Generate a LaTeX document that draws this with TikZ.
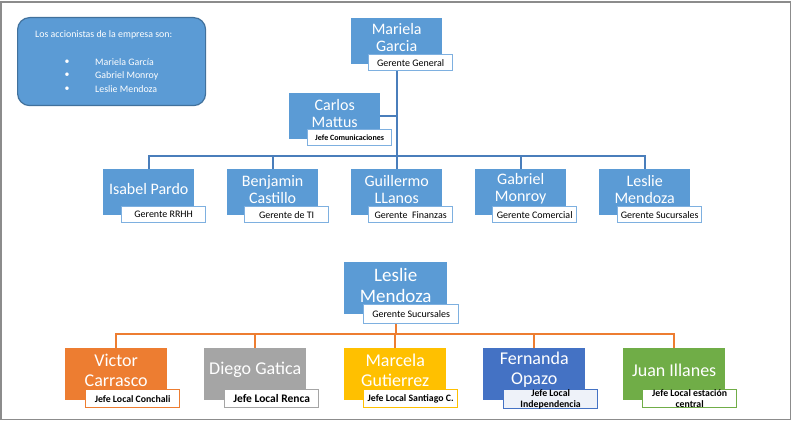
\documentclass[tikz,border=0pt]{standalone}
\usepackage{fontspec}
\setmainfont{Carlito}
\usetikzlibrary{calc,backgrounds}
\definecolor{cblue}{HTML}{5B9BD5}
\definecolor{cbluedark}{HTML}{41719C}
\definecolor{clblue}{HTML}{7EB0E0}
\definecolor{ctline}{HTML}{4A7EBB}
\definecolor{corange}{HTML}{ED7D31}
\definecolor{cgray}{HTML}{A5A5A5}
\definecolor{cgold}{HTML}{FFC000}
\definecolor{cdblue}{HTML}{4472C4}
\definecolor{cgreen}{HTML}{70AD47}
\definecolor{cframe}{HTML}{8C8C8C}
\definecolor{ctint}{HTML}{EEF2F9}
\tikzset{
  tbox/.style={rectangle, anchor=north west, fill=cblue, minimum width=91pt, minimum height=46pt, inner sep=0pt},
  bbox/.style={rectangle, anchor=north west, fill=#1, minimum width=102pt, minimum height=52pt, inner sep=0pt},
  tname/.style={text=white, align=center, inner sep=0pt, font=\fontsize{16}{17}\selectfont},
  bname/.style={text=white, align=center, inner sep=0pt, font=\fontsize{18}{20}\selectfont},
  tlbl/.style={rectangle, anchor=north west, draw=clblue, line width=1.3pt, fill=white, minimum width=84pt, minimum height=16pt, inner sep=0pt, text=black, font=\fontsize{10}{11}\selectfont},
  blbl/.style={rectangle, anchor=north west, draw=#1, line width=1.3pt, fill=white, minimum width=94pt, minimum height=18pt, inner sep=0pt, text=black, align=center, font=\bfseries\fontsize{9.8}{10.5}\selectfont},
  tline/.style={draw=ctline, line width=1.6pt},
  oline/.style={draw=corange, line width=1.6pt},
  infotxt/.style={text=white, inner sep=0pt, font=\fontsize{9.9}{11}\selectfont}
}
\begin{document}
\begin{tikzpicture}[x=1pt,y=-1pt]
\useasboundingbox (0,0) rectangle (793,422);
\draw[cframe, line width=1.2pt] (1,2) rectangle (790.5,419.5);

% info box
\node[rectangle, anchor=north west, fill=cblue, draw=cbluedark, line width=1.2pt, rounded corners=12pt, minimum width=188pt, minimum height=88pt] (info) at (17,17) {};
\node[infotxt, anchor=west] (infot) at (35,35) {Los accionistas de la empresa son:};
\node[infotxt] (bu1) at (67,62) {\textbullet};
\node[infotxt] (bu2) at (67,75.5) {\textbullet};
\node[infotxt] (bu3) at (67,89) {\textbullet};
\node[infotxt, anchor=west] (in1) at (95,62) {Mariela García};
\node[infotxt, anchor=west] (in2) at (95,75.5) {Gabriel Monroy};
\node[infotxt, anchor=west] (in3) at (95,89) {Leslie Mendoza};

% top tree
\coordinate (hb) at (0,156);
\node[tbox] (mg) at (351,18) {};
\node[tbox] (cm) at (289,93) {};
\node[tbox] (ip) at (103,169) {};
\node[tbox] (bc) at (227,169) {};
\node[tbox] (gl) at (351,169) {};
\node[tbox] (gm) at (475,169) {};
\node[tbox] (lm) at (599,169) {};

\begin{scope}[on background layer]
\draw[tline] (mg.south) -- (mg.south |- hb);
\draw[tline] (cm.east) -- (cm.east -| mg.south);
\draw[tline] (ip.north) -- (ip.north |- hb) -- (lm.north |- hb) -- (lm.north);
\draw[tline] (bc.north) -- (bc.north |- hb);
\draw[tline] (gl.north) -- (gl.north |- hb);
\draw[tline] (gm.north) -- (gm.north |- hb);
\end{scope}

\node[tname] (mgt) at ($(mg.center)+(0,-3.5)$) {Mariela\\Garcia};
\node[tname] (cmt) at ($(cm.center)+(0,-2.5)$) {Carlos\\Mattus};
\node[tname] (ipt) at ($(ip.center)+(0,-3)$) {Isabel Pardo};
\node[tname] (bct) at ($(bc.center)+(0,-3)$) {Benjamin\\Castillo};
\node[tname] (glt) at ($(gl.center)+(0,-3)$) {Guillermo\\LLanos};
\node[tname] (gmt) at ($(gm.center)+(0,-3)$) {Gabriel\\Monroy};
\node[tname] (lmt) at ($(lm.center)+(0,-3)$) {Leslie\\Mendoza};

\node[tlbl] (mgl) at ($(mg.north west)+(17,36)$) {Gerente General};
\node[tlbl, font=\bfseries\fontsize{8}{9}\selectfont] (cml) at ($(cm.north west)+(18,36)$) {Jefe Comunicaciones};
\node[tlbl] (ipl) at ($(ip.north west)+(18,37)$) {Gerente RRHH};
\node[tlbl] (bcl) at ($(bc.north west)+(17,37)$) {Gerente de TI};
\node[tlbl] (gll) at ($(gl.north west)+(17,37)$) {Gerente\ \ Finanzas};
\node[tlbl] (gml) at ($(gm.north west)+(17,37)$) {Gerente Comercial};
\node[tlbl] (lml) at ($(lm.north west)+(18,37)$) {Gerente Sucursales};

% bottom tree
\coordinate (hb2) at (0,334);
\node[bbox=cblue, minimum width=103pt] (ls) at (344,262) {};
\node[bbox=corange] (vc) at (65,348) {};
\node[bbox=cgray] (dg) at (204,348) {};
\node[bbox=cgold] (mgu) at (344,348) {};
\node[bbox=cdblue] (fo) at (483,348) {};
\node[bbox=cgreen] (ji) at (623,348) {};

\begin{scope}[on background layer]
\draw[oline] (ls.south) -- (ls.south |- hb2);
\draw[oline] (vc.north) -- (vc.north |- hb2) -- (ji.north |- hb2) -- (ji.north);
\draw[oline] (dg.north) -- (dg.north |- hb2);
\draw[oline] (mgu.north) -- (mgu.north |- hb2);
\draw[oline] (fo.north) -- (fo.north |- hb2);
\end{scope}

\node[tname, font=\fontsize{19}{21}\selectfont] (lst) at ($(ls.center)+(0,-2.5)$) {Leslie\\Mendoza};
\node[bname] (vct) at ($(vc.center)+(0,-4)$) {Victor\\Carrasco};
\node[bname] (dgt) at ($(dg.center)+(0,-4)$) {Diego Gatica};
\node[bname] (mgut) at ($(mgu.center)+(0,-4)$) {Marcela\\Gutierrez};
\node[bname] (fot) at ($(fo.center)+(0,-4)$) {Fernanda\\Opazo};
\node[bname] (jit) at ($(ji.center)+(0,-4)$) {Juan Illanes};

\node[tlbl, minimum width=95pt, minimum height=19pt] (lsl) at ($(ls.north west)+(19,42)$) {Gerente Sucursales};
\node[blbl=corange] (vcl) at ($(vc.north west)+(20,41)$) {Jefe Local Conchali};
\node[blbl=cgray, font=\bfseries\fontsize{11.5}{12}\selectfont] (dgl) at ($(dg.north west)+(20,41)$) {Jefe Local Renca};
\node[blbl=cgold] (mgul) at ($(mgu.north west)+(19,41)$) {Jefe Local Santiago C.};
\node[blbl=cdblue, fill=ctint, font=\bfseries\fontsize{9.8}{10.5}\selectfont] (fol) at ($(fo.north west)+(20,41)$) {Jefe Local\\Independencia};
\node[blbl=cgreen, font=\bfseries\fontsize{9.8}{10.5}\selectfont] (jil) at ($(ji.north west)+(19,41)$) {Jefe Local estación\\central};
\end{tikzpicture}
\end{document}
